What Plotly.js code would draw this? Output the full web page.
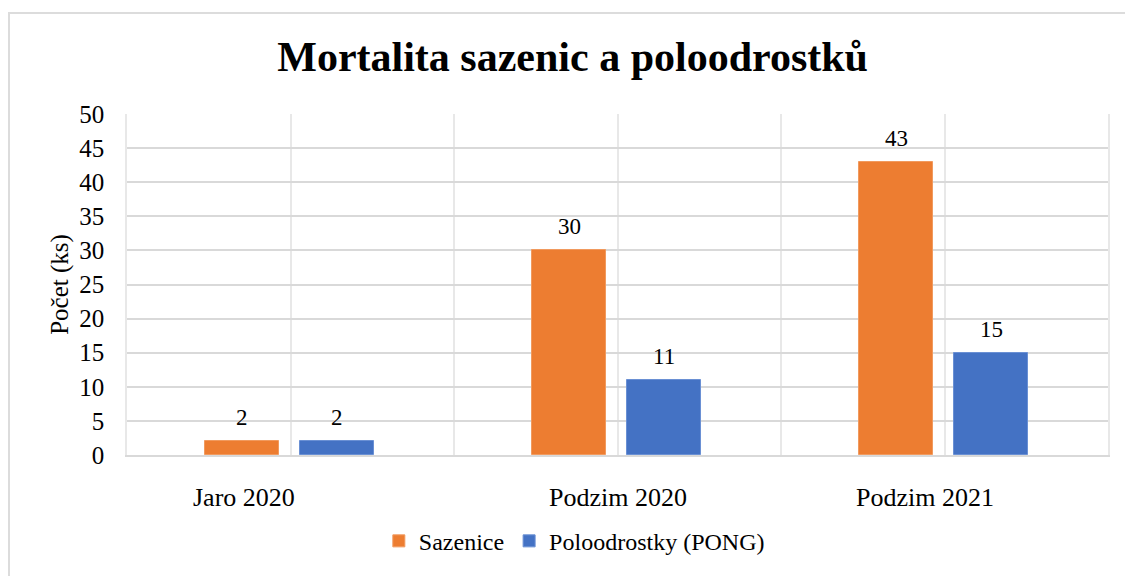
<!DOCTYPE html>
<html>
<head>
<meta charset="utf-8">
<script src="https://cdn.plot.ly/plotly-3.0.1.min.js"></script>
<style>
  html, body { margin: 0; padding: 0; background: #ffffff; }
  #frame { position: absolute; left: 8px; top: 12px; width: 1200px; height: 700px;
           border-left: 2px solid #dcdcdc; border-top: 2px solid #dcdcdc; box-sizing: border-box; }
  #chart { position: absolute; left: 0; top: 0; width: 1125px; height: 576px; }
</style>
</head>
<body>
<div id="frame"></div>
<div id="chart"></div>
<script>
const categories = ["Jaro 2020", "Podzim 2020", "Podzim 2021"];
const sazenice = [2, 30, 43];
const poloodrostky = [2, 11, 15];
const seriesNames = ["Sazenice", "Poloodrostky (PONG)"];
const yTicks = [0, 5, 10, 15, 20, 25, 30, 35, 40, 45, 50];

const FONT = "Liberation Serif";
const xPos = categories.map((c, i) => i);
const labelShift = [-47, 0, -20];   // horizontal pixel nudges of category labels, as in the reference
const barW = 0.226;
const offA = -0.26, offB = 0.03;

const traces = [
  { type: "bar", name: seriesNames[0], x: xPos, y: sazenice, width: barW, offset: offA,
    marker: { color: "#ED7D31", line: { color: "#F19A5E", width: 1 } }, hoverinfo: "y" },
  { type: "bar", name: seriesNames[1], x: xPos, y: poloodrostky, width: barW, offset: offB,
    marker: { color: "#4472C4", line: { color: "#6A90D4", width: 1 } }, hoverinfo: "y" }
];

const annotations = [];
[[sazenice, offA], [poloodrostky, offB]].forEach(([vals, off]) => {
  vals.forEach((v, i) => {
    annotations.push({ x: xPos[i] + off + barW / 2, y: v, xref: "x", yref: "y", text: String(v),
      showarrow: false, yanchor: "bottom", yshift: 9, font: { family: FONT, size: 23, color: "#000" } });
  });
});
categories.forEach((c, i) => {
  annotations.push({ x: xPos[i], y: 0, xref: "x", yref: "y", text: c, showarrow: false,
    xanchor: "center", yanchor: "middle", xshift: labelShift[i], yshift: -42,
    font: { family: FONT, size: 26, color: "#000" } });
});

const layout = {
  width: 1125, height: 576,
  margin: { l: 127, r: 17, t: 114, b: 118 },
  paper_bgcolor: "rgba(0,0,0,0)", plot_bgcolor: "#ffffff",
  font: { family: FONT, color: "#000000", size: 24 },
  title: { text: "<b>Mortalita sazenic a poloodrostků</b>", font: { family: FONT, size: 42, color: "#000000" },
           x: 0.509, xanchor: "center", y: 0.902, yanchor: "middle", xref: "container", yref: "container" },
  xaxis: { type: "linear", range: [-0.5, 2.5], tickmode: "array", tickvals: xPos, ticktext: categories,
           showticklabels: false,
           showgrid: true, gridcolor: "#e8e8e8", gridwidth: 1.5,
           minor: { tickmode: "linear", tick0: 0, dtick: 0.5, showgrid: true, gridcolor: "#e8e8e8", gridwidth: 1.5 },
           showline: true, linecolor: "#d9d9d9", linewidth: 2, zeroline: false,
           ticks: "", fixedrange: true },
  yaxis: { range: [0, 50], tickmode: "array", tickvals: yTicks, showgrid: true, gridcolor: "#d9d9d9", gridwidth: 2,
           showline: true, mirror: true, linecolor: "#e8e8e8", linewidth: 1.5, zeroline: false,
           ticks: "", ticklabelstandoff: 16, tickfont: { family: FONT, size: 25, color: "#000000" },
           title: { text: "Počet (ks)", font: { family: FONT, size: 25, color: "#000000" }, standoff: 4 }, fixedrange: true },
  showlegend: true,
  legend: { orientation: "h", x: 0.456, xanchor: "center", y: -0.253, yanchor: "middle",
            font: { family: FONT, size: 24, color: "#000000" }, itemwidth: 30, bgcolor: "rgba(0,0,0,0)" },
  bargap: 0, annotations: annotations
};

Plotly.newPlot("chart", traces, layout, { displayModeBar: false });
</script>
</body>
</html>
